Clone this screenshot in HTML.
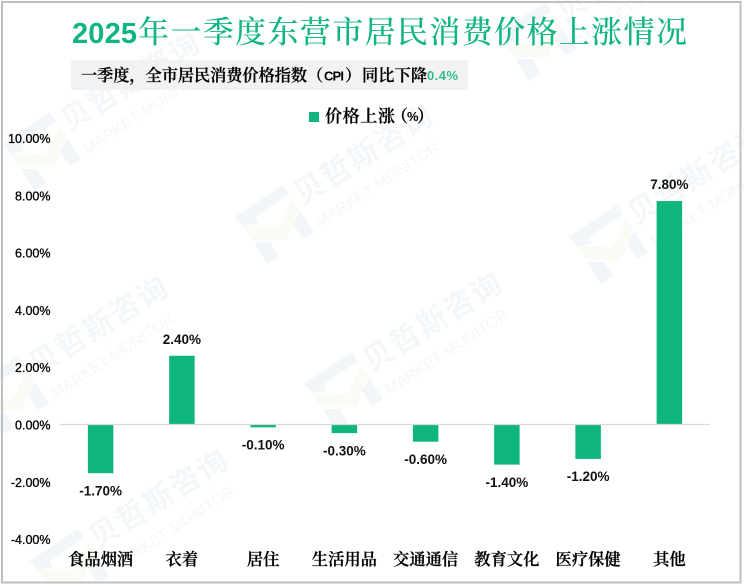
<!DOCTYPE html>
<html lang="zh">
<head>
<meta charset="utf-8">
<title>2025年一季度东营市居民消费价格上涨情况</title>
<style>
html,body{margin:0;padding:0;background:#fff;width:744px;height:586px;overflow:hidden}
svg{display:block}
.wm-cn{font-family:"Liberation Sans","Noto Sans CJK SC",sans-serif;font-size:30px;font-weight:700;fill:#f4f7fa}
.wm-en{font-family:"Liberation Sans",sans-serif;font-size:15.5px;fill:#f4f7fa}
.cjk{font-family:"Liberation Serif","Noto Serif CJK SC",serif;fill:#000;stroke:#000;stroke-width:.25}
.sub-latin{font-family:"Liberation Sans",sans-serif;font-weight:700;fill:#000}
.tick{font-family:"Liberation Sans",sans-serif;font-size:12.5px;fill:#000;stroke:#000;stroke-width:.3}
.val{font-family:"Liberation Sans",sans-serif;font-size:13.5px;font-weight:700;fill:#111}
.cat{font-family:"Liberation Serif","Noto Serif CJK SC",serif;font-size:16.3px;font-weight:600;fill:#000;stroke:#000;stroke-width:.25}
</style>
</head>
<body>
<svg id="chart" xmlns="http://www.w3.org/2000/svg" width="744" height="586" viewBox="0 0 744 586">
  <defs>
    <g id="wm-logo">
      <polygon fill="#f2f5f9" points="-38,-9 10,-41 16,-32 -18,-9 -15,-2 -30,0"/>
      <polygon fill="#f9fbf4" points="-30,0 5,1 19,-27 26,-19 14,14 -21,14"/>
      <polygon fill="#f2f5f9" points="27,-15 41,6 30,13 20,-2"/>
      <polygon fill="#f2f5f9" points="-19,16 -3,16 6,30 -6,38"/>
    </g>
  </defs>
  <rect x="0" y="0" width="744" height="586" fill="#fff"/>

  <g transform="translate(40,153)"><use href="#wm-logo"/><g transform="translate(36,-38) rotate(-32)"><text class="wm-cn" x="-15" y="11" textLength="157">贝哲斯咨询</text></g><g transform="translate(50,-7) rotate(-33)"><text class="wm-en" x="-7" y="6" textLength="143">MARKET MONITOR</text></g></g>
  <g transform="translate(273,226)"><use href="#wm-logo"/><g transform="translate(36,-38) rotate(-32)"><text class="wm-cn" x="-15" y="11" textLength="157">贝哲斯咨询</text></g><g transform="translate(50,-7) rotate(-33)"><text class="wm-en" x="-7" y="6" textLength="143">MARKET MONITOR</text></g></g>
  <g transform="translate(8,397)"><use href="#wm-logo"/><g transform="translate(36,-38) rotate(-32)"><text class="wm-cn" x="-15" y="11" textLength="157">贝哲斯咨询</text></g><g transform="translate(50,-7) rotate(-33)"><text class="wm-en" x="-7" y="6" textLength="143">MARKET MONITOR</text></g></g>
  <g transform="translate(342,393)"><use href="#wm-logo"/><g transform="translate(36,-38) rotate(-32)"><text class="wm-cn" x="-15" y="11" textLength="157">贝哲斯咨询</text></g><g transform="translate(50,-7) rotate(-33)"><text class="wm-en" x="-7" y="6" textLength="143">MARKET MONITOR</text></g></g>
  <g transform="translate(607,246)"><use href="#wm-logo"/><g transform="translate(36,-38) rotate(-32)"><text class="wm-cn" x="-15" y="11" textLength="157">贝哲斯咨询</text></g><g transform="translate(50,-7) rotate(-33)"><text class="wm-en" x="-7" y="6" textLength="143">MARKET MONITOR</text></g></g>
  <g transform="translate(535,43)"><use href="#wm-logo"/><g transform="translate(36,-38) rotate(-32)"><text class="wm-cn" x="-15" y="11" textLength="157">贝哲斯咨询</text></g><g transform="translate(50,-7) rotate(-33)"><text class="wm-en" x="-7" y="6" textLength="143">MARKET MONITOR</text></g></g>
  <g transform="translate(68,570)"><use href="#wm-logo"/><g transform="translate(36,-38) rotate(-32)"><text class="wm-cn" x="-15" y="11" textLength="157">贝哲斯咨询</text></g><g transform="translate(50,-7) rotate(-33)"><text class="wm-en" x="-7" y="6" textLength="143">MARKET MONITOR</text></g></g>
  <g transform="translate(300,-35)"><use href="#wm-logo"/></g>

  <rect x="2" y="2" width="738.5" height="580.5" fill="none" stroke="#bfbfbf" stroke-width="2"/>

  <g>
    <text x="72" y="43" font-family="Liberation Sans, sans-serif" font-size="29" font-weight="700" fill="#10b583" textLength="65">2025</text>
    <text x="138" y="43" font-family="Liberation Serif, Noto Serif CJK SC, serif" font-size="31" font-weight="500" fill="#10b583" textLength="549">年一季度东营市居民消费价格上涨情况</text>
  </g>

  <rect x="71" y="60" width="397" height="30" fill="#f2f2f2"/>
  <g>
    <text class="cjk" x="81" y="81" font-size="16.2" font-weight="600" textLength="226">一季度，全市居民消费价格指数</text>
    <text class="cjk" x="307" y="81" font-size="16.2" font-weight="600">（</text>
    <text class="sub-latin" x="324" y="80.5" font-size="13" textLength="20">CPI</text>
    <text class="cjk" x="345" y="81" font-size="16.2" font-weight="600">）</text>
    <text class="cjk" x="362" y="81" font-size="16.2" font-weight="600" textLength="65">同比下降</text>
  </g>
  <text x="427" y="80" font-family="Liberation Sans, sans-serif" font-size="13" font-weight="700" fill="#2fbd90" textLength="31">0.4%</text>

  <g>
    <rect x="309" y="112" width="10" height="10" fill="#0eb57f"/>
    <text class="cjk" x="325" y="122" font-size="17" font-weight="600" textLength="70">价格上涨</text>
    <text class="cjk" x="391" y="122" font-size="17" font-weight="600">（</text>
    <text class="sub-latin" x="407" y="121" font-size="13" textLength="10">%</text>
    <text class="cjk" x="417" y="122" font-size="17" font-weight="600">）</text>
  </g>

  <g id="y-axis"></g>
  <g id="bars"></g>
  <g id="x-axis"></g>
</svg>
<script>
const categories = ['食品烟酒', '衣着', '居住', '生活用品', '交通通信', '教育文化', '医疗保健', '其他'];
const seriesValues = [-1.7, 2.4, -0.1, -0.3, -0.6, -1.4, -1.2, 7.8];
const valueLabels = ['-1.70%', '2.40%', '-0.10%', '-0.30%', '-0.60%', '-1.40%', '-1.20%', '7.80%'];
const tickValues = [10, 8, 6, 4, 2, 0, -2, -4];
const tickLabels = ['10.00%', '8.00%', '6.00%', '4.00%', '2.00%', '0.00%', '-2.00%', '-4.00%'];

const NS = 'http://www.w3.org/2000/svg';
const plotLeft = 60, plotRight = 710, zeroY = 424.5, unitHeight = 28.65, barWidth = 25.5, labelGap = 17;
const yScale = function (v) { return zeroY - v * unitHeight; };
const xScale = function (i) { return plotLeft + (plotRight - plotLeft) / categories.length * (i + 0.5); };

function make(tag, attrs, text) {
  const el = document.createElementNS(NS, tag);
  Object.keys(attrs).forEach(function (k) { el.setAttribute(k, attrs[k]); });
  if (text !== undefined) el.textContent = text;
  return el;
}

const yAxis = document.getElementById('y-axis');
tickValues.forEach(function (v, i) {
  const t = make('text', { x: 50.5, y: yScale(v) + 1, 'text-anchor': 'end', 'dominant-baseline': 'central', class: 'tick' }, tickLabels[i]);
  
  
  yAxis.appendChild(t);
});

const barsGroup = document.getElementById('bars');
seriesValues.forEach(function (v, i) {
  const cx = xScale(i);
  const y0 = yScale(0), y1 = yScale(v);
  const bar = make('rect', { x: cx - barWidth / 2, y: Math.min(y0, y1), width: barWidth, height: Math.abs(y1 - y0), fill: '#0eb57f' });
  
  
  barsGroup.appendChild(bar);
  const labelY = (v >= 0 ? y1 - labelGap : y1 + labelGap) + 0.7;
  const lab = make('text', { x: cx, y: labelY, 'text-anchor': 'middle', 'dominant-baseline': 'central', class: 'val' }, valueLabels[i]);
  
  
  barsGroup.appendChild(lab);
});

const xAxis = document.getElementById('x-axis');
const axisLine = make('line', { x1: plotLeft, x2: plotRight, y1: yScale(0), y2: yScale(0), stroke: '#d9d9d9', 'stroke-width': 1.3 });


xAxis.appendChild(axisLine);
categories.forEach(function (c, i) {
  const t = make('text', { x: xScale(i), y: 565, 'text-anchor': 'middle', class: 'cat' }, c);
  
  
  xAxis.appendChild(t);
});
</script>
</body>
</html>
